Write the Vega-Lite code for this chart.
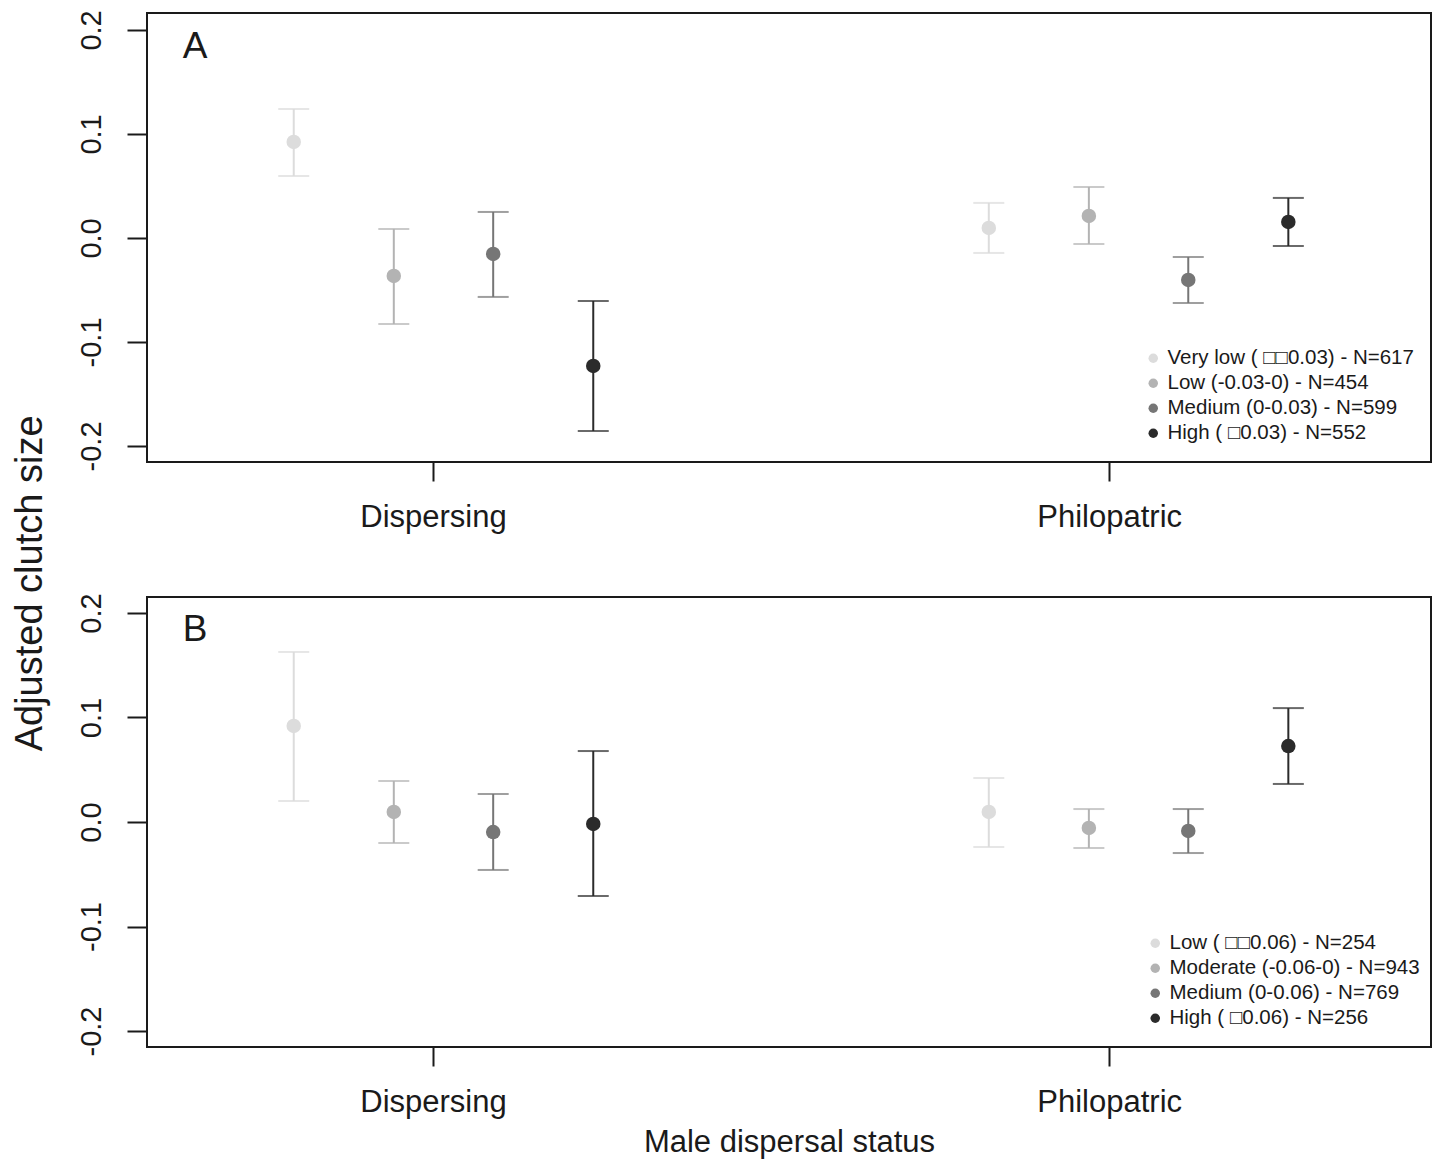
{
  "$schema": "https://vega.github.io/schema/vega-lite/v6.json",
  "background": "white",
  "padding": {"left": 12, "top": 8, "right": 2, "bottom": 5},
  "title": {"text": "Adjusted clutch size", "orient": "left", "anchor": "middle", "fontSize": 38, "font": "Liberation Sans", "fontWeight": "normal", "color": "#1a1a1a", "offset": 26},
  "config": {
    "font": "Liberation Sans",
    "view": {"stroke": "#1a1a1a", "strokeWidth": 2},
    "axis": {"grid": false, "domain": false, "tickColor": "#1a1a1a", "tickWidth": 2, "labelColor": "#1a1a1a", "titleColor": "#1a1a1a", "titleFontWeight": "normal", "labelFont": "Liberation Sans", "titleFont": "Liberation Sans"},
    "legend": {"orient": "none", "symbolType": "circle", "symbolSize": 90, "symbolOpacity": 1, "labelFontSize": 20.5, "labelColor": "#1a1a1a", "rowPadding": 4, "symbolStrokeWidth": 0, "labelFont": "Liberation Sans", "title": null, "labelLimit": 400, "padding": 0}
  },
  "datasets": {
    "a": [
      {"status": "Dispersing", "pos": 0.794, "level": "Very low ( □□0.03) - N=617", "ord": 1, "mean": 0.0923, "lower": 0.0596, "upper": 0.124},
      {"status": "Dispersing", "pos": 0.942, "level": "Low (-0.03-0) - N=454", "ord": 2, "mean": -0.0365, "lower": -0.0827, "upper": 0.0087},
      {"status": "Dispersing", "pos": 1.089, "level": "Medium (0-0.03) - N=599", "ord": 3, "mean": -0.0154, "lower": -0.0567, "upper": 0.025},
      {"status": "Dispersing", "pos": 1.237, "level": "High ( □0.03) - N=552", "ord": 4, "mean": -0.123, "lower": -0.1856, "upper": -0.0606},
      {"status": "Philopatric", "pos": 1.822, "level": "Very low ( □□0.03) - N=617", "ord": 1, "mean": 0.0096, "lower": -0.0144, "upper": 0.0337},
      {"status": "Philopatric", "pos": 1.970, "level": "Low (-0.03-0) - N=454", "ord": 2, "mean": 0.0212, "lower": -0.0058, "upper": 0.049},
      {"status": "Philopatric", "pos": 2.117, "level": "Medium (0-0.03) - N=599", "ord": 3, "mean": -0.0404, "lower": -0.0625, "upper": -0.0183},
      {"status": "Philopatric", "pos": 2.265, "level": "High ( □0.03) - N=552", "ord": 4, "mean": 0.0154, "lower": -0.0077, "upper": 0.0385}
    ],
    "b": [
      {"status": "Dispersing", "pos": 0.794, "level": "Low ( □□0.06) - N=254", "ord": 1, "mean": 0.0919, "lower": 0.0201, "upper": 0.1627},
      {"status": "Dispersing", "pos": 0.942, "level": "Moderate (-0.06-0) - N=943", "ord": 2, "mean": 0.0096, "lower": -0.0201, "upper": 0.0392},
      {"status": "Dispersing", "pos": 1.089, "level": "Medium (0-0.06) - N=769", "ord": 3, "mean": -0.0096, "lower": -0.0459, "upper": 0.0268},
      {"status": "Dispersing", "pos": 1.237, "level": "High ( □0.06) - N=256", "ord": 4, "mean": -0.0019, "lower": -0.0708, "upper": 0.0679},
      {"status": "Philopatric", "pos": 1.822, "level": "Low ( □□0.06) - N=254", "ord": 1, "mean": 0.0096, "lower": -0.0239, "upper": 0.0421},
      {"status": "Philopatric", "pos": 1.970, "level": "Moderate (-0.06-0) - N=943", "ord": 2, "mean": -0.0057, "lower": -0.0249, "upper": 0.0124},
      {"status": "Philopatric", "pos": 2.117, "level": "Medium (0-0.06) - N=769", "ord": 3, "mean": -0.0086, "lower": -0.0297, "upper": 0.0124},
      {"status": "Philopatric", "pos": 2.265, "level": "High ( □0.06) - N=256", "ord": 4, "mean": 0.0727, "lower": 0.0364, "upper": 0.109}
    ],
    "labels": [
      {"panel": "A", "px": 0.648, "py": 0.184},
      {"panel": "B", "px": 0.648, "py": 0.184}
    ]
  },
  "vconcat": [
    {
      "width": 1284,
      "height": 449,
      "data": {"name": "a"},
      "encoding": {
        "x": {"field": "pos", "type": "quantitative", "scale": {"domain": [0.577, 2.476], "nice": false, "zero": false},
              "axis": {"values": [1, 2], "labelExpr": "datum.value == 1 ? 'Dispersing' : 'Philopatric'", "tickSize": 19, "labelFontSize": 31, "labelPadding": 21, "title": null}},
        "color": {"field": "level", "type": "nominal", "sort": {"field": "ord"},
                  "scale": {"range": ["#dcdcdc", "#b3b3b3", "#767676", "#2b2b2b"]}, "legend": {"symbolType": "circle", "legendX": 996, "legendY": 335}}
      },
      "layer": [
        {"mark": {"type": "rule", "strokeWidth": 2}, "encoding": {
          "y": {"field": "lower", "type": "quantitative", "scale": {"domain": [-0.2154, 0.2163], "nice": false, "zero": false},
                "axis": {"values": [-0.2, -0.1, 0, 0.1, 0.2], "labelExpr": "(datum.value < 0 ? '-' : '') + format(abs(datum.value), '.1f')", "labelAngle": -90, "labelAlign": "center", "labelBaseline": "bottom", "tickSize": 20, "labelFontSize": 29, "labelPadding": 21, "title": null}},
          "y2": {"field": "upper"}}},
        {"mark": {"type": "tick", "orient": "horizontal", "size": 31, "thickness": 2}, "encoding": {"y": {"field": "upper", "type": "quantitative"}}},
        {"mark": {"type": "tick", "orient": "horizontal", "size": 31, "thickness": 2}, "encoding": {"y": {"field": "lower", "type": "quantitative"}}},
        {"mark": {"type": "point", "filled": true, "size": 210, "opacity": 1, "shape": "circle"}, "encoding": {"y": {"field": "mean", "type": "quantitative"}}},
        {"data": {"name": "labels"}, "transform": [{"filter": "datum.panel == 'A'"}],
         "mark": {"type": "text", "fontSize": 37, "color": "#1a1a1a", "align": "center", "baseline": "middle"},
         "encoding": {"x": {"field": "px", "type": "quantitative"}, "y": {"field": "py", "type": "quantitative"}, "text": {"field": "panel"}, "color": {"value": "#1a1a1a"}}}
      ]
    },
    {
      "width": 1284,
      "height": 450,
      "data": {"name": "b"},
      "encoding": {
        "x": {"field": "pos", "type": "quantitative", "scale": {"domain": [0.577, 2.476], "nice": false, "zero": false},
              "axis": {"values": [1, 2], "labelExpr": "datum.value == 1 ? 'Dispersing' : 'Philopatric'", "tickSize": 19, "labelFontSize": 31, "labelPadding": 21, "title": "Male dispersal status", "titleFontSize": 31, "titlePadding": 10}},
        "color": {"field": "level", "type": "nominal", "sort": {"field": "ord"},
                  "scale": {"range": ["#dcdcdc", "#b3b3b3", "#767676", "#2b2b2b"]}, "legend": {"symbolType": "circle", "legendX": 998, "legendY": 336}}
      },
      "layer": [
        {"mark": {"type": "rule", "strokeWidth": 2}, "encoding": {
          "y": {"field": "lower", "type": "quantitative", "scale": {"domain": [-0.2153, 0.2153], "nice": false, "zero": false},
                "axis": {"values": [-0.2, -0.1, 0, 0.1, 0.2], "labelExpr": "(datum.value < 0 ? '-' : '') + format(abs(datum.value), '.1f')", "labelAngle": -90, "labelAlign": "center", "labelBaseline": "bottom", "tickSize": 20, "labelFontSize": 29, "labelPadding": 21, "title": null}},
          "y2": {"field": "upper"}}},
        {"mark": {"type": "tick", "orient": "horizontal", "size": 31, "thickness": 2}, "encoding": {"y": {"field": "upper", "type": "quantitative"}}},
        {"mark": {"type": "tick", "orient": "horizontal", "size": 31, "thickness": 2}, "encoding": {"y": {"field": "lower", "type": "quantitative"}}},
        {"mark": {"type": "point", "filled": true, "size": 210, "opacity": 1, "shape": "circle"}, "encoding": {"y": {"field": "mean", "type": "quantitative"}}},
        {"data": {"name": "labels"}, "transform": [{"filter": "datum.panel == 'B'"}],
         "mark": {"type": "text", "fontSize": 37, "color": "#1a1a1a", "align": "center", "baseline": "middle"},
         "encoding": {"x": {"field": "px", "type": "quantitative"}, "y": {"field": "py", "type": "quantitative"}, "text": {"field": "panel"}, "color": {"value": "#1a1a1a"}}}
      ]
    }
  ],
  "spacing": 58,
  "resolve": {"scale": {"color": "independent", "y": "independent"}}
}
